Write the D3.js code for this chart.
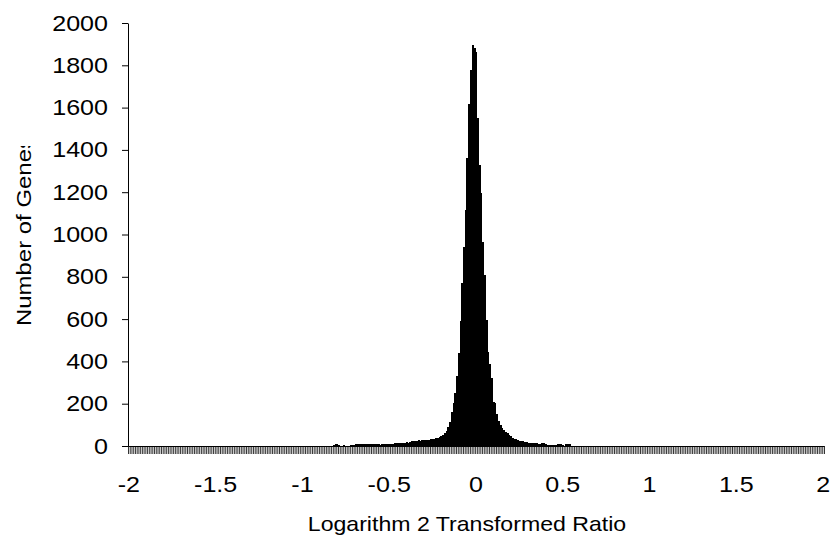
<!DOCTYPE html>
<html>
<head>
<meta charset="utf-8">
<script src="https://cdn.jsdelivr.net/npm/d3@7"></script>
<style>
  body { margin: 0; background: #fff; }
  text { font-family: "Liberation Sans", Arial, sans-serif; fill: #000; }
</style>
</head>
<body>
<div id="chart"></div>
<script>
// Histogram bins: log2 ratio from -2.00 to 2.00 in steps of 0.01
var categories = d3.range(-200, 201).map(function(i) { return (i / 100).toFixed(2); });

// Number of genes per bin (row per 0.20 of ratio)
var counts = [
  0,0,0,0,0,0,0,0,0,0,0,0,0,0,0,0,0,0,0,0,          // -2.00
  0,0,0,0,0,0,0,0,0,0,0,0,0,0,0,0,0,0,0,0,          // -1.80
  0,0,0,0,0,0,0,0,0,0,0,0,0,0,0,0,0,0,0,0,          // -1.60
  0,0,0,0,0,0,0,0,0,0,0,0,0,0,0,0,0,0,0,0,          // -1.40
  0,0,0,0,0,0,0,0,0,0,0,0,0,0,0,0,0,0,0,0,          // -1.20
  0,0,0,0,0,0,0,0,0,0,0,0,0,0,0,0,0,2,7,9,          // -1.00
  8,5,2,2,3,2,2,2,3,3,4,9,10,11,10,11,10,11,10,8,   // -0.80
  9,8,8,9,8,7,8,9,8,8,9,8,9,12,14,16,15,16,15,16,   // -0.60
  17,16,17,22,24,26,25,27,26,27,28,28,29,30,31,33,34,36,38,41, // -0.40
  45,52,62,70,92,115,160,205,250,330,440,590,770,940,1115,1360,1615,1780,1895, // -0.20 .. -0.01
  1880,1865,1550,1330,1195,965,810,595,445,390,320,210,205,150,120,98,85,78,68,60, // 0.00
  52,45,40,35,32,28,25,24,22,18,17,16,16,15,16,14,12,10,9,12, // 0.20
  12,11,6,5,5,4,4,3,10,10,9,3,2,9,9,8,2,1,0,0,      // 0.40
  0,0,0,0,0,0,0,0,0,0,0,0,0,0,0,0,0,0,0,0,          // 0.60
  0,0,0,0,0,0,0,0,0,0,0,0,0,0,0,0,0,0,0,0,          // 0.80
  0,0,0,0,0,0,0,0,0,0,0,0,0,0,0,0,0,0,0,0,          // 1.00
  0,0,0,0,0,0,0,0,0,0,0,0,0,0,0,0,0,0,0,0,          // 1.20
  0,0,0,0,0,0,0,0,0,0,0,0,0,0,0,0,0,0,0,0,          // 1.40
  0,0,0,0,0,0,0,0,0,0,0,0,0,0,0,0,0,0,0,0,          // 1.60
  0,0,0,0,0,0,0,0,0,0,0,0,0,0,0,0,0,0,0,0,          // 1.80
  0                                                 // 2.00
];

var xTickLabels = ["-2.00", "-1.50", "-1.00", "-0.50", "0.00", "0.50", "1.00", "1.50", "2.00"];
var yTicks = [0, 200, 400, 600, 800, 1000, 1200, 1400, 1600, 1800, 2000];

var data = categories.map(function(c, i) { return { bin: c, count: counts[i] || 0 }; });

var width = 835, height = 544;
var margin = { top: 23, right: 11, bottom: 98, left: 128 };

// the original text is drawn a bit wider than Arial
function stretch(sel, k) {
    sel.each(function() {
        var len = this.getComputedTextLength();
        d3.select(this)
            .attr("textLength", len * k)
            .attr("lengthAdjust", "spacingAndGlyphs");
    });
}

var svg = d3.select("#chart")
    .append("svg")
    .attr("width", width)
    .attr("height", height);

var x = d3.scaleBand()
    .domain(categories)
    .range([margin.left, width - margin.right])
    .paddingInner(0)
    .paddingOuter(0);

// boundaries between bins, used for the dense tick marks
var xEdges = d3.scaleLinear()
    .domain([0, categories.length])
    .range([margin.left, width - margin.right]);

var y = d3.scaleLinear()
    .domain([0, 2000])
    .range([height - margin.bottom, margin.top]);

// Bars (slight overlap so neighbouring bars don't leave white seams)
svg.append("g")
    .attr("shape-rendering", "crispEdges")
    .selectAll("rect")
    .data(data)
    .enter()
    .append("rect")
    .attr("x", function(d) { return x(d.bin); })
    .attr("width", x.bandwidth() + 0.4)
    .attr("y", function(d) { return y(d.count); })
    .attr("height", function(d) { return y(0) - y(d.count); })
    .attr("fill", "#000");

// X axis: tick marks between every bin
var xTickG = svg.append("g")
    .attr("transform", "translate(0," + y(0) + ")")
    .call(d3.axisBottom(xEdges)
        .tickValues(d3.range(categories.length + 1))
        .tickSize(8)
        .tickSizeOuter(0)
        .tickFormat(""));
xTickG.selectAll(".tick line").attr("stroke", "#000").attr("stroke-width", 0.8);
xTickG.select(".domain").attr("stroke", "#000");

// X axis labels
var xLabelG = svg.append("g")
    .attr("transform", "translate(0," + y(0) + ")")
    .call(d3.axisBottom(x)
        .tickValues(xTickLabels)
        .tickSize(0)
        .tickPadding(30)
        .tickFormat(function(d) { return String(+d); }));
xLabelG.select(".domain").remove();
xLabelG.selectAll("text").style("font-size", "22px").call(stretch, 1.14);

// Y axis
var yAxisG = svg.append("g")
    .attr("transform", "translate(" + margin.left + ",0)")
    .call(d3.axisLeft(y)
        .tickValues(yTicks)
        .tickSize(6)
        .tickSizeOuter(0)
        .tickPadding(14)
        .tickFormat(d3.format("d")));
yAxisG.selectAll("text").style("font-size", "22px").call(stretch, 1.14);
yAxisG.selectAll("line, path").attr("stroke", "#000");

// Axis titles
svg.append("text")
    .attr("x", 467)
    .attr("y", 531)
    .attr("text-anchor", "middle")
    .style("font-size", "21px")
    .text("Logarithm 2 Transformed Ratio")
    .call(stretch, 1.1);

// y title is clipped at the top in the original
svg.append("defs").append("clipPath")
    .attr("id", "ytitle-clip")
    .append("rect")
    .attr("x", 0).attr("y", 146)
    .attr("width", 60).attr("height", 300);

svg.append("g")
    .attr("clip-path", "url(#ytitle-clip)")
    .append("text")
    .attr("transform", "translate(31,326) rotate(-90)")
    .attr("text-anchor", "start")
    .style("font-size", "21px")
    .text("Number of Genes")
    .call(stretch, 1.14);
</script>
</body>
</html>
